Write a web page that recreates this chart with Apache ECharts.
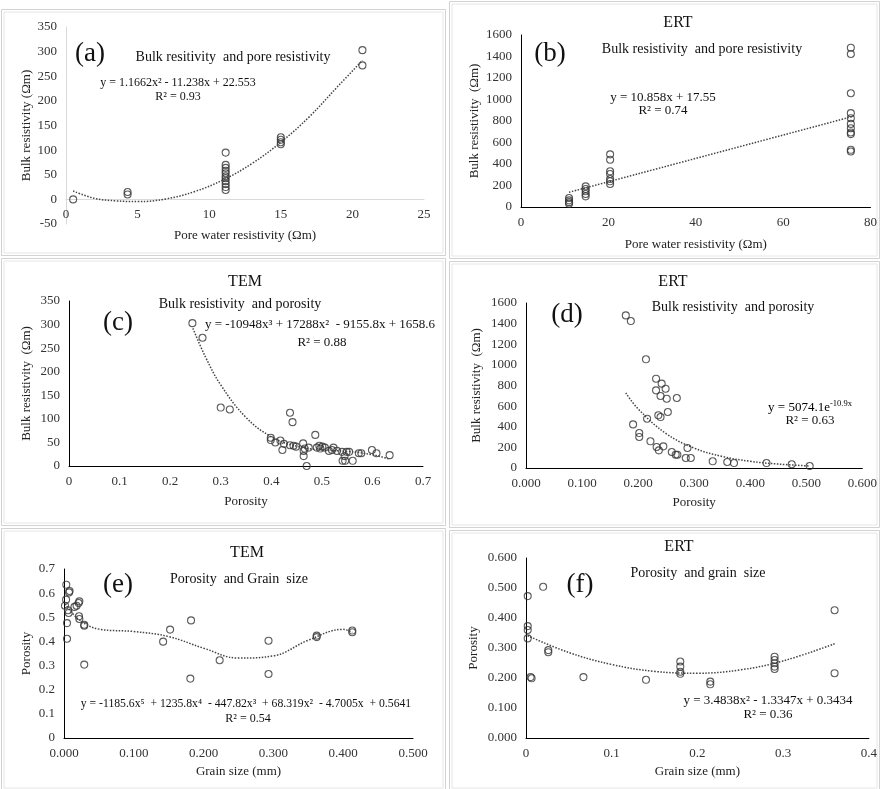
<!DOCTYPE html>
<html>
<head>
<meta charset="utf-8">
<script src="https://cdn.jsdelivr.net/npm/echarts@6/dist/echarts.min.js"></script>
<style>
  html, body { margin: 0; padding: 0; background: #fff; }
  #chart { width: 880px; height: 789px; }
</style>
</head>
<body>
<div id="chart"></div>
<script>
// (a) TEM bulk resistivity vs pore water resistivity
var aPoints = [[0.5,0],[4.3,10],[4.3,15],[11.15,95],[11.15,70],[11.15,64],[11.15,58],[11.15,53],[11.15,47],[11.15,43],[11.15,37],[11.15,31],[11.15,25],[11.15,19],[15,126],[15,121],[15,116],[15,112],[20.7,303],[20.7,272]];
var aTrend = [[0.5,17],[2,2],[3.5,-3],[5,-4.5],[7,1],[9,16],[11,40],[13,73],[15,116],[17,168],[19,230],[20.7,282]];
// (b) ERT bulk resistivity vs pore water resistivity
var bPoints = [[11,84],[11,62],[11,45],[11,31],[14.8,192],[14.8,167],[14.8,146],[14.8,121],[14.8,99],[20.4,490],[20.4,440],[20.4,332],[20.4,307],[20.4,260],[20.4,239],[20.4,214],[75.5,1482],[75.5,1423],[75.5,1058],[75.5,873],[75.5,826],[75.5,773],[75.5,733],[75.5,693],[75.5,678],[75.5,532],[75.5,516]];
var bTrend = [[11,137],[76,843]];
// (c) TEM bulk resistivity vs porosity
var cPoints = [[0.244,303],[0.264,272],[0.300,124],[0.318,120],[0.399,60],[0.399,55],[0.408,50],[0.418,54],[0.422,34],[0.425,47],[0.437,113],[0.437,44],[0.442,93],[0.444,43],[0.449,41],[0.463,48],[0.464,32],[0.464,21],[0.466,37],[0.470,0],[0.474,39],[0.487,66],[0.490,39],[0.495,43],[0.497,37],[0.501,41],[0.506,39],[0.514,32],[0.520,34],[0.523,39],[0.530,32],[0.540,30],[0.541,11],[0.546,11],[0.545,21],[0.549,30],[0.554,30],[0.561,11],[0.573,27],[0.578,27],[0.599,34],[0.608,27],[0.634,23]];
var cTrend = [[0.245,292],[0.27,231],[0.3,172],[0.35,103],[0.4,62],[0.45,42],[0.5,34],[0.55,31],[0.6,24],[0.635,14]];
// (d) ERT bulk resistivity vs porosity
var dPoints = [[0.178,1480],[0.187,1425],[0.214,1054],[0.191,423],[0.202,339],[0.202,301],[0.216,478],[0.222,259],[0.232,866],[0.232,753],[0.233,204],[0.236,511],[0.237,171],[0.240,494],[0.240,698],[0.242,818],[0.245,210],[0.249,769],[0.251,672],[0.253,543],[0.260,155],[0.267,129],[0.269,679],[0.270,129],[0.285,97],[0.288,194],[0.294,97],[0.333,65],[0.359,58],[0.371,48],[0.429,48],[0.474,36],[0.506,19]];
var dTrend = [[0.178,729],[0.2,573],[0.25,333],[0.3,193],[0.35,112],[0.4,65],[0.45,38],[0.506,20]];
// (e) TEM porosity vs grain size
var ePoints = [[0.0033,0.635],[0.0014,0.548],[0.003,0.573],[0.0043,0.476],[0.0043,0.411],[0.0072,0.603],[0.008,0.609],[0.0057,0.529],[0.0067,0.518],[0.015,0.543],[0.018,0.548],[0.021,0.559],[0.022,0.566],[0.0215,0.504],[0.022,0.493],[0.029,0.469],[0.029,0.465],[0.029,0.304],[0.142,0.399],[0.152,0.449],[0.182,0.487],[0.181,0.246],[0.223,0.322],[0.293,0.403],[0.293,0.265],[0.362,0.424],[0.362,0.418],[0.413,0.445],[0.413,0.438]];
var eTrend = [[0.002,0.555],[0.02,0.494],[0.05,0.451],[0.1,0.441],[0.15,0.420],[0.2,0.372],[0.25,0.331],[0.3,0.340],[0.35,0.405],[0.4,0.450],[0.413,0.437]];
// (f) ERT porosity vs grain size
var fPoints = [[0.002,0.473],[0.002,0.373],[0.002,0.360],[0.002,0.332],[0.0054,0.203],[0.0065,0.199],[0.020,0.504],[0.026,0.293],[0.026,0.286],[0.067,0.203],[0.140,0.194],[0.180,0.255],[0.180,0.238],[0.180,0.221],[0.180,0.214],[0.215,0.188],[0.215,0.179],[0.290,0.271],[0.290,0.260],[0.290,0.249],[0.290,0.238],[0.290,0.230],[0.360,0.426],[0.360,0.216]];
var fTrend = [[0.002,0.341],[0.05,0.285],[0.1,0.245],[0.15,0.222],[0.2,0.216],[0.25,0.227],[0.3,0.257],[0.36,0.314]];

var SERIF = 'Liberation Serif';
var chart = echarts.init(document.getElementById('chart'));

// 数值轴的通用设置
function axis(idx, min, max, interval, name, gap, fmt, lineColor) {
	return {
		type: 'value', gridIndex: idx, min: min, max: max, interval: interval,
		name: name, nameLocation: 'middle', nameGap: gap,
		nameTextStyle: { fontFamily: SERIF, fontSize: 13, color: '#222' },
		axisLine: { show: true, onZero: false, lineStyle: { color: lineColor || '#000', width: 1 } },
		axisTick: { show: false },
		splitLine: { show: false },
		axisLabel: { fontFamily: SERIF, fontSize: 13, color: '#333', margin: 9, formatter: fmt }
	};
}
function fix(n) { return function(v) { return v === 0 && n < 3 ? '0' : v.toFixed(n); }; }
function int(v) { return String(Math.round(v)); }

function scatter(idx, data) {
	return {
		type: 'scatter', xAxisIndex: idx, yAxisIndex: idx, data: data,
		symbol: 'circle', symbolSize: 7,
		itemStyle: { color: 'rgba(0,0,0,0)', borderColor: '#333', borderWidth: 1.1 }
	};
}
function trend(idx, data) {
	return {
		type: 'line', xAxisIndex: idx, yAxisIndex: idx, data: data,
		smooth: 0.4, showSymbol: false, symbol: 'none',
		lineStyle: { color: '#444', width: 1.5, type: [1.5, 1.5] }
	};
}
function txt(x, y, text, size, extra) {
	var style = { x: x, y: y, text: text, fill: '#111', font: size + 'px "' + SERIF + '"', align: 'center', verticalAlign: 'middle' };
	if (extra) { for (var k in extra) style[k] = extra[k]; }
	return { type: 'text', z: 10, style: style };
}
function frame(x, y, w, h) {
	return [
		{ type: 'rect', shape: { x: x, y: y, width: w, height: h }, style: { fill: 'none', stroke: '#d2d2d2', lineWidth: 1 }, z: -1 },
		{ type: 'rect', shape: { x: x + 2.5, y: y + 2.5, width: w - 5, height: h - 5 }, style: { fill: 'none', stroke: '#e6e6e6', lineWidth: 1 }, z: -1 }
	];
}

var graphic = [].concat(
	frame(1.5, 9.5, 444, 246), frame(449.5, 1.5, 430, 257),
	frame(1.5, 258.5, 444, 267), frame(449.5, 261.5, 430, 266),
	frame(1.5, 528.5, 444, 262), frame(449.5, 530.5, 430, 260),
	[
		txt(90, 54, '(a)', 27),
		txt(233, 57, 'Bulk resitivity  and pore resistivity', 14),
		txt(178, 83, 'y = 1.1662x\u00b2 - 11.238x + 22.553', 12),
		txt(178, 97, 'R\u00b2 = 0.93', 12),

		txt(678, 23, 'ERT', 16),
		txt(550, 54, '(b)', 27),
		txt(702, 49, 'Bulk resistivity  and pore resistivity', 14),
		txt(663, 98, 'y = 10.858x + 17.55', 13),
		txt(663, 111, 'R\u00b2 = 0.74', 13),

		txt(245, 282, 'TEM', 16),
		txt(240, 304, 'Bulk resistivity  and porosity', 14),
		txt(118, 323, '(c)', 27),
		txt(320, 325, 'y = -10948x\u00b3 + 17288x\u00b2  - 9155.8x + 1658.6', 13),
		txt(322, 343, 'R\u00b2 = 0.88', 13),

		txt(673, 282, 'ERT', 16),
		txt(733, 307, 'Bulk resistivity  and porosity', 14),
		txt(567, 315, '(d)', 27),
		{ type: 'text', z: 10, style: {
			x: 810, y: 407, align: 'center', verticalAlign: 'middle',
			text: '{n|y = 5074.1e}{s|-10.9x}',
			rich: {
				n: { fontFamily: SERIF, fontSize: 13, color: '#111', lineHeight: 15, verticalAlign: 'bottom' },
				s: { fontFamily: SERIF, fontSize: 8.5, color: '#111', lineHeight: 15, verticalAlign: 'top' }
			}
		} },
		txt(810, 421, 'R\u00b2 = 0.63', 13),

		txt(247, 553, 'TEM', 16),
		txt(239, 579, 'Porosity  and Grain  size', 14),
		txt(118, 585, '(e)', 27),
		txt(246, 704, 'y = -1185.6x\u2075  + 1235.8x\u2074  - 447.82x\u00b3  + 68.319x\u00b2  - 4.7005x  + 0.5641', 11.7),
		txt(248, 719, 'R\u00b2 = 0.54', 12),

		txt(679, 547, 'ERT', 16),
		txt(698, 573, 'Porosity  and grain  size', 14),
		txt(580, 585, '(f)', 27),
		txt(768, 701, 'y = 3.4838x\u00b2 - 1.3347x + 0.3434', 13),
		txt(768, 715, 'R\u00b2 = 0.36', 13)
	]
);

// (a) 的横轴画在 y=0 处
var xAxisA = axis(0, 0, 25, 5, 'Pore water resistivity (\u03a9m)', 30, int, '#d9d9d9');
xAxisA.offset = -24.6;

var option = {
	animation: false,
	backgroundColor: '#fff',
	grid: [
		{ left: 66, top: 27, width: 358, height: 197 },
		{ left: 521, top: 35, width: 351, height: 172 },
		{ left: 69, top: 301, width: 354, height: 165 },
		{ left: 526, top: 303, width: 337, height: 165 },
		{ left: 64, top: 569, width: 349, height: 169 },
		{ left: 526, top: 558, width: 347, height: 180 }
	],
	xAxis: [
		xAxisA,
		axis(1, 0, 80, 20, 'Pore water resistivity (\u03a9m)', 31, int),
		axis(2, 0, 0.7, 0.1, 'Porosity', 29, fix(1)),
		axis(3, 0, 0.6, 0.1, 'Porosity', 28, fix(3)),
		axis(4, 0, 0.5, 0.1, 'Grain size (mm)', 27, fix(3)),
		axis(5, 0, 0.4, 0.1, 'Grain size (mm)', 27, fix(1))
	],
	yAxis: [
		axis(0, -50, 350, 50, 'Bulk resistivity (\u03a9m)', 33, int, '#d9d9d9'),
		axis(1, 0, 1600, 200, 'Bulk resistivity  (\u03a9m)', 40, int),
		axis(2, 0, 350, 50, 'Bulk resistivity  (\u03a9m)', 36, int),
		axis(3, 0, 1600, 200, 'Bulk resistivity  (\u03a9m)', 43, int),
		axis(4, 0, 0.7, 0.1, 'Porosity', 31, fix(1)),
		axis(5, 0, 0.6, 0.1, 'Porosity', 46, fix(3))
	],
	series: [
		scatter(0, aPoints), trend(0, aTrend),
		scatter(1, bPoints), trend(1, bTrend),
		scatter(2, cPoints), trend(2, cTrend),
		scatter(3, dPoints), trend(3, dTrend),
		scatter(4, ePoints), trend(4, eTrend),
		scatter(5, fPoints), trend(5, fTrend)
	],
	graphic: graphic
};
chart.setOption(option);
</script>
</body>
</html>
